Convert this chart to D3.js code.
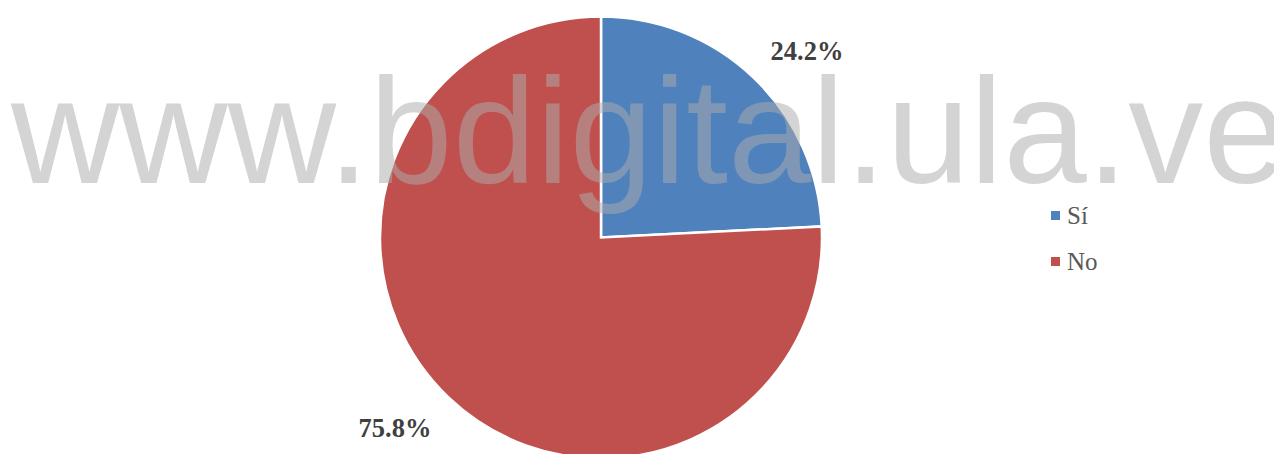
<!DOCTYPE html>
<html>
<head>
<meta charset="utf-8">
<script src="https://cdn.jsdelivr.net/npm/d3@7"></script>
<style>
    body { margin: 0; background: #fff; }
    svg { display: block; }
</style>
</head>
<body>
<div id="chart"></div>
<script>
// chart data
const categories = ["Sí", "No"];
const values = [24.2, 75.8];
const colors = ["#4f81bd", "#c0504d"];
const watermark = "www.bdigital.ula.ve";

const width = 1274, height = 454;
const cx = 601, cy = 237.5, radius = 221;

let svg = d3.select("#chart").append("svg")
    .attr("width", width)
    .attr("height", height);

let color = d3.scaleOrdinal().domain(categories).range(colors);

let pie = d3.pie().sort(null).value(d => d.value);
let data = categories.map((c, i) => ({name: c, value: values[i]}));
let arcs = pie(data);

let arc = d3.arc().innerRadius(0).outerRadius(radius);

// labels sit outside the pie, shifted a bit clockwise (like Excel best fit)
let labelShift = 4 * Math.PI / 180;
let labelArc = d3.arc().innerRadius(radius * 1.263).outerRadius(radius * 1.263);

let g = svg.append("g").attr("transform", `translate(${cx},${cy})`);

g.selectAll("path")
    .data(arcs)
    .enter()
    .append("path")
    .attr("d", arc)
    .attr("fill", d => color(d.data.name))
    .attr("stroke", "#fff")
    .attr("stroke-width", 2.5)
    .attr("stroke-linejoin", "miter");

g.selectAll("text.lbl")
    .data(arcs)
    .enter()
    .append("text")
    .attr("class", "lbl")
    .attr("transform", d => {
        let p = labelArc.centroid({startAngle: d.startAngle + labelShift, endAngle: d.endAngle + labelShift});
        return `translate(${p[0]},${p[1]})`;
    })
    .attr("text-anchor", "middle")
    .attr("dy", "0.42em")
    .style("font-family", "'Liberation Serif', 'Times New Roman', serif")
    .style("font-weight", "bold")
    .style("font-size", "26.5px")
    .style("fill", "#404040")
    .text(d => d.data.value.toFixed(1) + "%");

// legend
let legend = svg.append("g").attr("transform", "translate(1051,215.5)");
let item = legend.selectAll("g")
    .data(categories)
    .enter()
    .append("g")
    .attr("transform", (d, i) => `translate(0,${i * 46})`);

item.append("rect")
    .attr("x", 0)
    .attr("y", -4.5)
    .attr("width", 9)
    .attr("height", 9)
    .attr("fill", d => color(d));

item.append("text")
    .attr("x", 16)
    .attr("y", 8.5)
    .style("font-family", "'Liberation Serif', 'Times New Roman', serif")
    .style("font-size", "25px")
    .style("fill", "#595959")
    .text(d => d);

// watermark over everything
svg.append("text")
    .attr("x", 11)
    .attr("y", 183)
    .style("font-family", "'Liberation Sans', Arial, sans-serif")
    .style("font-size", "150px")
    .style("fill", "rgb(172,172,172)")
    .style("fill-opacity", 0.52)
    .text(watermark);
</script>
</body>
</html>
